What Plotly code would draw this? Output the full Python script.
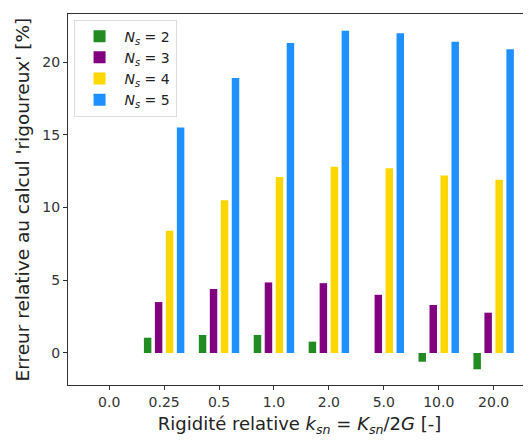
import plotly.graph_objects as go

categories = ["0.0", "0.25", "0.5", "1.0", "2.0", "5.0", "10.0", "20.0"]
ns2 = [0.0, 1.05, 1.24, 1.24, 0.78, 0.0, -0.6, -1.12]
ns3 = [0.0, 3.5, 4.4, 4.85, 4.8, 4.0, 3.3, 2.77]
ns4 = [0.0, 8.4, 10.5, 12.1, 12.8, 12.7, 12.2, 11.9]
ns5 = [0.0, 15.5, 18.9, 21.3, 22.15, 21.97, 21.4, 20.87]

series = [
    ("<i>N<sub>s</sub></i> = 2", ns2, "#228B22"),
    ("<i>N<sub>s</sub></i> = 3", ns3, "#800080"),
    ("<i>N<sub>s</sub></i> = 4", ns4, "#FFD700"),
    ("<i>N<sub>s</sub></i> = 5", ns5, "#1E90FF"),
]

fig = go.Figure()
for name, vals, col in series:
    fig.add_trace(go.Bar(x=categories, y=vals, name=name, marker_color=col,
                         marker_line_width=0))

font = "DejaVu Sans, sans-serif"
fig.update_layout(
    width=523, height=433,
    margin=dict(l=60, r=0, t=6, b=56),
    plot_bgcolor="white", paper_bgcolor="white",
    barmode="group", bargap=0.2, bargroupgap=0.32,
    font=dict(family=font, size=14, color="#333"),
    legend=dict(x=0.012, y=0.985, xanchor="left", yanchor="top",
                bgcolor="white", bordercolor="#ddd", borderwidth=1,
                font=dict(size=14, color="#222"), itemwidth=40,
                tracegroupgap=8),
    showlegend=True,
)
fig.update_xaxes(type="category", range=[-0.75, 7.68], automargin=False,
                 showline=True, linecolor="#333", linewidth=1.2, mirror=True,
                 ticks="outside", ticklen=4, tickcolor="#333",
                 showgrid=False, zeroline=False,
                 title=dict(text="Rigidité relative <i>k<sub>sn</sub></i> = <i>K<sub>sn</sub></i>/2<i>G</i> [-]",
                            font=dict(size=18, color="#222"), standoff=8))
fig.update_yaxes(range=[-2.2, 23.3], tickvals=[0, 5, 10, 15, 20], automargin=False,
                 showline=True, linecolor="#333", linewidth=1.2,
                 ticks="outside", ticklen=4, tickcolor="#333",
                 showgrid=False, zeroline=False)
fig.add_annotation(text="Erreur relative au calcul 'rigoureux' [%]",
                   xref="paper", yref="paper", x=0, y=0.5,
                   xanchor="center", yanchor="middle", xshift=-46,
                   textangle=-90, showarrow=False,
                   font=dict(size=18.5, color="#222"))

fig.write_html("out.html")
